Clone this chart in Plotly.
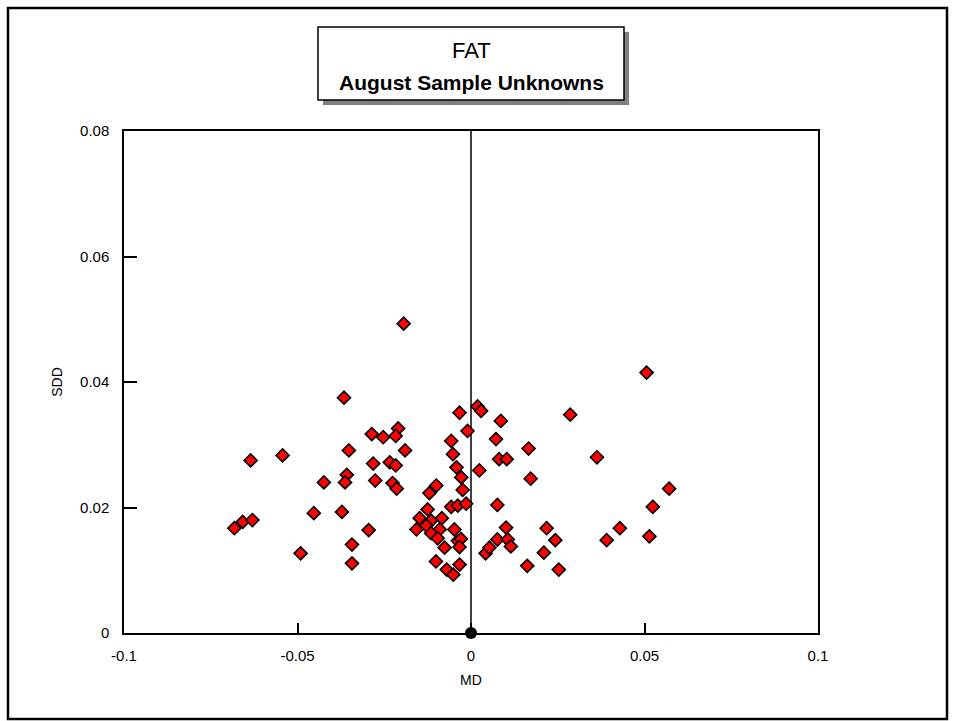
import plotly.graph_objects as go

# Mean difference (MD) and standard deviation of differences (SDD) per sample
md = [-0.0194, -0.0366, -0.0033, 0.0019, 0.0029, 0.0086, -0.0210, -0.0286, -0.0253, -0.0217,
      -0.0010, -0.0057, 0.0072, -0.0352, -0.0190, -0.0052, -0.0635, -0.0543, -0.0282, -0.0234,
      -0.0217, -0.0042, 0.0024, 0.0081, 0.0103, -0.0358, -0.0028, -0.0424, -0.0363, -0.0276,
      -0.0226, -0.0214, -0.0100, -0.0120, -0.0024, -0.0057, -0.0038, -0.0014, 0.0076, -0.0682,
      -0.0658, -0.0630, -0.0453, -0.0372, -0.0295, -0.0343, -0.0491, -0.0343, -0.0125, -0.0148,
      -0.0084, -0.0115, -0.0129, -0.0157, -0.0090, -0.0048, -0.0115, -0.0096, -0.0038, -0.0029,
      -0.0033, -0.0076, -0.0101, -0.0033, -0.0070, -0.0051, 0.0042, 0.0053, 0.0076, 0.0506,
      0.0286, 0.0166, 0.0363, 0.0172, 0.0571, 0.0524, 0.0101, 0.0218, 0.0429, 0.0106,
      0.0243, 0.0391, 0.0514, 0.0115, 0.0210, 0.0162, 0.0253]
sdd = [0.0493, 0.0375, 0.0351, 0.0361, 0.0354, 0.0338, 0.0326, 0.0317, 0.0312, 0.0314,
       0.0322, 0.0306, 0.0309, 0.0291, 0.0291, 0.0285, 0.0275, 0.0283, 0.0270, 0.0272,
       0.0267, 0.0264, 0.0259, 0.0277, 0.0277, 0.0252, 0.0248, 0.0240, 0.0240, 0.0243,
       0.0239, 0.0230, 0.0235, 0.0223, 0.0228, 0.0201, 0.0203, 0.0206, 0.0204, 0.0167,
       0.0177, 0.0180, 0.0191, 0.0193, 0.0164, 0.0141, 0.0127, 0.0111, 0.0197, 0.0183,
       0.0183, 0.0179, 0.0171, 0.0165, 0.0165, 0.0165, 0.0159, 0.0151, 0.0147, 0.0150,
       0.0137, 0.0136, 0.0114, 0.0109, 0.0101, 0.0093, 0.0127, 0.0136, 0.0149, 0.0415,
       0.0348, 0.0294, 0.0280, 0.0246, 0.0230, 0.0201, 0.0168, 0.0167, 0.0167, 0.0149,
       0.0148, 0.0148, 0.0154, 0.0138, 0.0128, 0.0107, 0.0101]

# Reference (target) point
target_md = [0.0]
target_sdd = [0.0]

x_ticks = [-0.1, -0.05, 0, 0.05, 0.1]
x_tick_labels = ["-0.1", "-0.05", "0", "0.05", "0.1"]
y_ticks = [0, 0.02, 0.04, 0.06, 0.08]
y_tick_labels = ["0", "0.02", "0.04", "0.06", "0.08"]

title_main = "FAT"
title_sub = "August Sample Unknowns"

W, H = 957, 721
ML, MR, MT, MB = 124, 139, 131, 88
PW, PH = W - ML - MR, H - MT - MB


def px(xp):
    return (xp - ML) / PW


def py(yp):
    return 1 - (yp - MT) / PH


FONT = "Liberation Sans, Arial, sans-serif"

fig = go.Figure()
fig.add_trace(go.Scatter(
    x=md, y=sdd, mode="markers",
    marker=dict(symbol="diamond", size=10, color="#ff0000",
                line=dict(color="black", width=1.6)),
    hoverinfo="x+y", showlegend=False, cliponaxis=False))
fig.add_trace(go.Scatter(
    x=target_md, y=target_sdd, mode="markers",
    marker=dict(symbol="circle", size=12, color="black"),
    showlegend=False, cliponaxis=False))

shapes = [
    # vertical line through MD = 0
    dict(type="line", xref="x", yref="y domain", x0=0, x1=0, y0=0, y1=1,
         line=dict(color="black", width=1.5), layer="below"),
    # outer frame
    dict(type="rect", xref="paper", yref="paper",
         x0=px(8), x1=px(947), y0=py(8), y1=py(719),
         line=dict(color="black", width=2.5)),
    # title box shadow
    dict(type="rect", xref="paper", yref="paper",
         x0=px(323), x1=px(629), y0=py(32), y1=py(105),
         fillcolor="#808080", line=dict(width=0), layer="below"),
    # title box
    dict(type="rect", xref="paper", yref="paper",
         x0=px(318), x1=px(624), y0=py(27), y1=py(100),
         fillcolor="white", line=dict(color="black", width=1.5), layer="below"),
]

annotations = [
    dict(text=title_main, xref="paper", yref="paper", x=px(471), y=py(51),
         showarrow=False, font=dict(family=FONT, size=22, color="black"),
         xanchor="center", yanchor="middle"),
    dict(text="<b>" + title_sub + "</b>", xref="paper", yref="paper", x=px(471), y=py(82),
         showarrow=False, font=dict(family=FONT, size=21, color="black"),
         xanchor="center", yanchor="middle"),
]

axis_common = dict(showline=True, linecolor="black", linewidth=1.5, mirror=True,
                   showgrid=False, zeroline=False, ticks="inside", tickcolor="black",
                   tickwidth=1.5, tickfont=dict(family=FONT, size=15, color="black"))

fig.update_layout(
    width=W, height=H,
    margin=dict(l=ML, r=MR, t=MT, b=MB),
    paper_bgcolor="white", plot_bgcolor="white",
    shapes=shapes, annotations=annotations,
    xaxis=dict(range=[-0.1, 0.1], tickvals=x_ticks, ticktext=x_tick_labels,
               ticklen=10, ticklabelstandoff=8,
               title=dict(text="MD", font=dict(family=FONT, size=14, color="black"),
                          standoff=12),
               **axis_common),
    yaxis=dict(range=[0, 0.08], tickvals=y_ticks, ticktext=y_tick_labels,
               ticklen=13, ticklabelstandoff=10,
               title=dict(text="SDD", font=dict(family=FONT, size=14, color="black"),
                          standoff=14),
               **axis_common),
)

fig.write_html("out.html")
